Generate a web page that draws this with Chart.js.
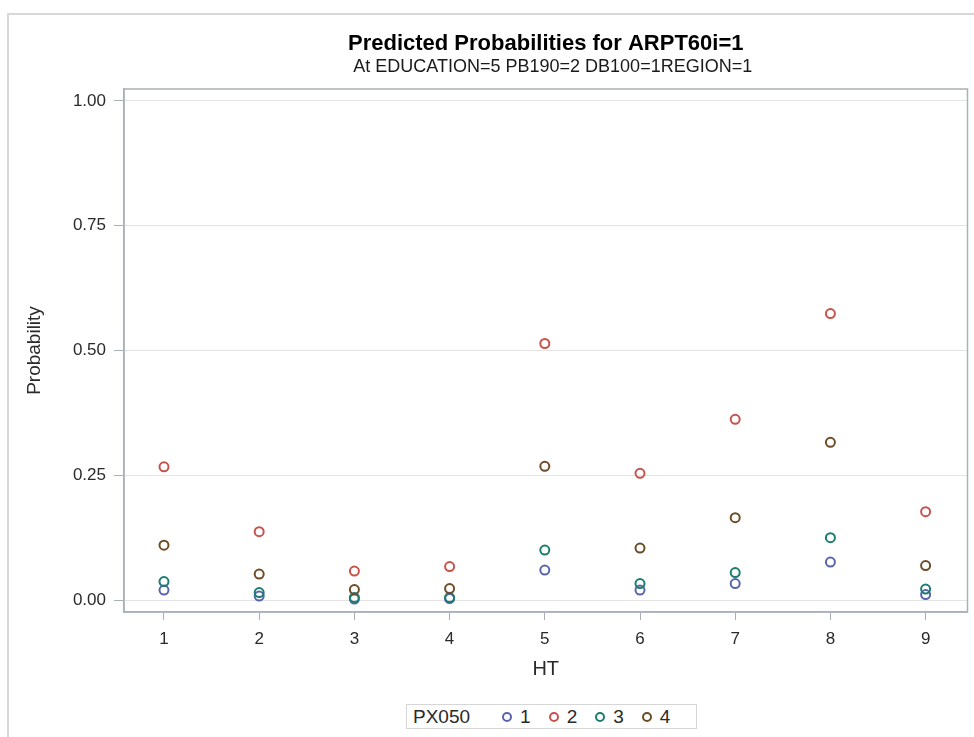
<!DOCTYPE html>
<html>
<head>
<meta charset="utf-8">
<script src="https://cdn.jsdelivr.net/npm/chart.js@4/dist/chart.umd.min.js"></script>
<style>
  body { margin: 0; background: #fff; }
  #wrap { position: relative; width: 974px; height: 737px; }
  #frame { position: absolute; left: 7px; top: 13px; right: 0; bottom: 0;
           border-left: 2px solid #d8d8d8; border-top: 2px solid #d8d8d8; }
  #legend { position: absolute; left: 406px; top: 704px; width: 291px; height: 25px;
            box-sizing: border-box; border: 1px solid #d6d6d6; background: #fff;
            display: flex; align-items: center; padding-left: 6px;
            font: 19px 'Liberation Sans', Arial, sans-serif; color: #2a2a2a; }
  #legend .mk { display: inline-block; width: 6px; height: 6px; border-radius: 50%;
                border: 2px solid; margin-left: 18px; margin-right: 8px; }
</style>
</head>
<body>
<div id="wrap">
  <div id="frame"></div>
  <canvas id="chart" width="974" height="737"></canvas>
  <div id="legend"></div>
</div>
<script>
const ht = [1, 2, 3, 4, 5, 6, 7, 8, 9];
const yTicks = [0, 0.25, 0.5, 0.75, 1];
const groups = ['1', '2', '3', '4'];
const px1 = [0.020, 0.008, 0.002, 0.003, 0.060, 0.020, 0.033, 0.076, 0.011];
const px2 = [0.267, 0.137, 0.058, 0.067, 0.514, 0.254, 0.362, 0.574, 0.177];
const px3 = [0.037, 0.015, 0.005, 0.005, 0.100, 0.033, 0.055, 0.125, 0.022];
const px4 = [0.110, 0.052, 0.021, 0.023, 0.268, 0.104, 0.165, 0.316, 0.069];
const colors = ['#5865ae', '#c8524c', '#1c7c70', '#6e4c26'];

const series = [px1, px2, px3, px4];
const font = "'Liberation Sans', Arial, sans-serif";

// outer box of the plot + the two title lines
const boxAndTitles = {
  id: 'boxAndTitles',
  afterDraw(chart) {
    const ctx = chart.ctx;
    const a = chart.chartArea;
    ctx.save();
    ctx.strokeStyle = '#a9b0b8';
    ctx.lineWidth = 1.5;
    ctx.strokeRect(a.left, a.top, a.right - a.left, a.bottom - a.top);
    const cx = (a.left + a.right) / 2;
    ctx.textAlign = 'center';
    ctx.textBaseline = 'middle';
    ctx.fillStyle = '#000';
    ctx.font = 'bold 22px ' + font;
    ctx.fillText('Predicted Probabilities for ARPT60i=1', cx, 44);
    ctx.fillStyle = '#1a1a1a';
    ctx.font = '18px ' + font;
    ctx.fillText('At EDUCATION=5 PB190=2 DB100=1REGION=1', cx + 7, 67);
    ctx.restore();
  }
};

const chart = new Chart(document.getElementById('chart'), {
  type: 'scatter',
  data: {
    datasets: series.map((vals, i) => ({
      label: groups[i],
      data: ht.map((x, j) => ({ x: x, y: vals[j] })),
      borderColor: colors[i],
      backgroundColor: 'rgba(0,0,0,0)',
      pointRadius: 4.5,
      pointBorderWidth: 2,
      order: 4 - i
    }))
  },
  options: {
    responsive: false,
    animation: false,
    layout: { padding: { left: 0, right: 4, top: 89, bottom: 0 } },
    plugins: {
      legend: { display: false },
      tooltip: { enabled: false }
    },
    scales: {
      x: {
        type: 'linear',
        min: 0.58,
        max: 9.44,
        afterBuildTicks: s => { s.ticks = ht.map(v => ({ value: v })); },
        afterFit: s => { s.height = 125; },
        grid: { drawOnChartArea: false, tickLength: 8, tickColor: '#a9b0b8' },
        border: { color: '#a9b0b8', width: 1.5 },
        ticks: { padding: 9, color: '#2a2a2a', font: { family: font, size: 17 } },
        title: { display: true, text: 'HT', color: '#2a2a2a',
                 font: { family: font, size: 20 }, padding: { top: 0, bottom: 56 } }
      },
      y: {
        min: -0.024,
        max: 1.024,
        afterBuildTicks: s => { s.ticks = yTicks.map(v => ({ value: v })); },
        afterFit: s => { s.width = 124; },
        grid: { color: '#e4e4e4', tickLength: 10, tickColor: '#a9b0b8' },
        border: { color: '#a9b0b8', width: 1.5 },
        ticks: { padding: 8, color: '#2a2a2a', font: { family: font, size: 17 },
                 callback: v => v.toFixed(2) },
        title: { display: true, text: 'Probability', color: '#2a2a2a',
                 font: { family: font, size: 19 }, padding: { top: 23, bottom: 0 } }
      }
    }
  },
  plugins: [boxAndTitles]
});

// legend strip built from the datasets
const lg = document.getElementById('legend');
lg.innerHTML = '<span>PX050</span>';
chart.data.datasets.forEach((d, i) => {
  const mk = document.createElement('span');
  mk.className = 'mk';
  mk.style.borderColor = d.borderColor;
  if (i === 0) mk.style.marginLeft = '32px';
  const t = document.createElement('span');
  t.textContent = d.label;
  lg.appendChild(mk);
  lg.appendChild(t);
});
</script>
</body>
</html>
